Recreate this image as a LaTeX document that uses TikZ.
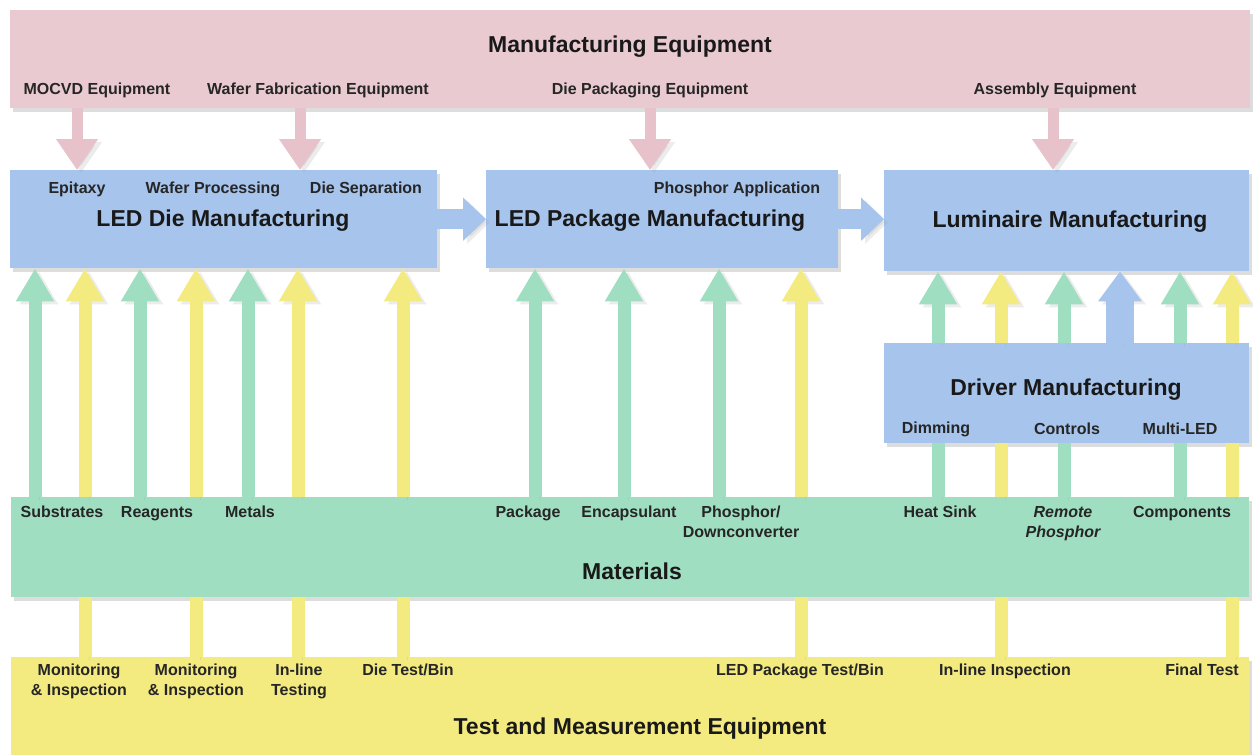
\documentclass[tikz,border=0pt]{standalone}
\usepackage{fontspec}
\setmainfont{Liberation Sans}
\usetikzlibrary{arrows.meta,shadows}
\definecolor{pinkbox}{RGB}{233,202,208}
\definecolor{pinkarr}{RGB}{231,194,203}
\definecolor{bluec}{RGB}{166,196,236}
\definecolor{greenc}{RGB}{160,222,194}
\definecolor{yellowc}{RGB}{243,234,128}
\newcommand\lblfont{\bfseries\fontsize{16}{20}\selectfont}
\newcommand\ttlfont{\bfseries\fontsize{23}{27}\selectfont}
\tikzset{
  box/.style={rectangle, inner sep=0pt, draw=none, anchor=north west,
    drop shadow={shadow xshift=3pt, shadow yshift=-4pt, opacity=0.22, fill=black!60}},
  lbl/.style={font=\lblfont, align=center, inner sep=0pt, text=black!85},
  ttl/.style={font=\ttlfont, align=center, inner sep=0pt, text=black!90},
  ashadow/.style={preaction={draw=black!40, opacity=0.18, transform canvas={xshift=4pt, yshift=-3pt}}},
  garrow/.style={ashadow, draw=greenc, line width=13pt, -{Triangle[width=36pt,length=33pt]}},
  yarrow/.style={ashadow, draw=yellowc, line width=13pt, -{Triangle[width=36pt,length=33pt]}},
  gline/.style={ashadow, draw=greenc, line width=13pt},
  yline/.style={ashadow, draw=yellowc, line width=13pt},
  parrow/.style={ashadow, draw=pinkarr, line width=11pt, -{Triangle[width=40pt,length=31pt]}},
  bharrow/.style={ashadow, draw=bluec, line width=20pt, -{Triangle[width=42pt,length=23pt]}},
  bvarrow/.style={ashadow, draw=bluec, line width=28pt, -{Triangle[width=42pt,length=30pt]}},
}
\begin{document}
\begin{tikzpicture}[x=1pt,y=-1pt]
\useasboundingbox (0,0) rectangle (1253,755);
\fill[white] (0,0) rectangle (1253,755);

% column coordinates
\foreach \n/\x in {p1/77,p2/300,p3/650,p4/1053,
  g1/35,y1/85,g2/140,y2/196,g3/248,y3/298,y4/403,
  g4/535,g5/624,g6/719,y5/801,
  g7/938,y6/1001,g8/1064,b1/1120,g9/1180,y7/1232}
  \coordinate (\n) at (\x,0);

% boxes
\node[box, fill=pinkbox, minimum width=1240pt, minimum height=98pt] (meq) at (10,10) {};
\node[box, fill=bluec, minimum width=427pt, minimum height=98pt] (die) at (10,170) {};
\node[box, fill=bluec, minimum width=352pt, minimum height=98pt] (pkg) at (486,170) {};
\node[box, fill=bluec, minimum width=365pt, minimum height=101pt] (lum) at (884,170) {};
\node[box, fill=bluec, minimum width=365pt, minimum height=100pt] (drv) at (884,343) {};
\node[box, fill=greenc, minimum width=1238pt, minimum height=100pt] (mat) at (11,497) {};
\node[box, fill=yellowc, minimum width=1238pt, minimum height=98pt] (tme) at (11,657) {};

% pink arrows (equipment -> manufacturing)
\draw[parrow] (p1 |- meq.south) -- (p1 |- die.north);
\draw[parrow] (p2 |- meq.south) -- (p2 |- die.north);
\draw[parrow] (p3 |- meq.south) -- (p3 |- pkg.north);
\draw[parrow] (p4 |- meq.south) -- (p4 |- lum.north);

% blue flow arrows
\draw[bharrow] (die.east) -- (die.east -| pkg.west);
\draw[bharrow] (pkg.east) -- (pkg.east -| lum.west);
\draw[bvarrow] (b1 |- drv.north) -- (b1 |- lum.south);

% materials -> die / package
\foreach \c in {g1,g2,g3} \draw[garrow] (\c |- mat.north) -- (\c |- die.south);
\foreach \c in {g4,g5,g6} \draw[garrow] (\c |- mat.north) -- (\c |- pkg.south);
% test -> die / package (through materials)
\foreach \c in {y1,y2,y3,y4} {
  \draw[yline] (\c |- tme.north) -- (\c |- mat.south);
  \draw[yarrow] (\c |- mat.north) -- (\c |- die.south);
}
\draw[yline] (y5 |- tme.north) -- (y5 |- mat.south);
\draw[yarrow] (y5 |- mat.north) -- (y5 |- pkg.south);
% luminaire column (through driver box)
\foreach \c in {g7,g8,g9} {
  \draw[gline] (\c |- mat.north) -- (\c |- drv.south);
  \draw[garrow] (\c |- drv.north) -- (\c |- lum.south);
}
\foreach \c in {y6,y7} {
  \draw[yline] (\c |- tme.north) -- (\c |- mat.south);
  \draw[yline] (\c |- mat.north) -- (\c |- drv.south);
  \draw[yarrow] (\c |- drv.north) -- (\c |- lum.south);
}

% texts: manufacturing equipment
\node[ttl] (t-meq) at (630,47) {Manufacturing Equipment};
\node[lbl] (l-mocvd) at (97,90) {MOCVD Equipment};
\node[lbl] (l-wafer) at (318,90) {Wafer Fabrication Equipment};
\node[lbl] (l-diepk) at (650,90) {Die Packaging Equipment};
\node[lbl] (l-assy) at (1055,90) {Assembly Equipment};

% LED die
\node[lbl] (l-epi) at (77,189) {Epitaxy};
\node[lbl] (l-wproc) at (213,189) {Wafer Processing};
\node[lbl] (l-dsep) at (366,189) {Die Separation};
\node[ttl] (t-die) at (223,221) {LED Die Manufacturing};
% package
\node[lbl] (l-phapp) at (737,189) {Phosphor Application};
\node[ttl] (t-pkg) at (650,221) {LED Package Manufacturing};
% luminaire
\node[ttl] (t-lum) at (1070,222) {Luminaire Manufacturing};
% driver
\node[ttl] (t-drv) at (1066,390) {Driver Manufacturing};
\node[lbl] (l-dim) at (936,429) {Dimming};
\node[lbl] (l-ctl) at (1067,429) {Controls};
\node[lbl] (l-mled) at (1180,429) {Multi-LED};

% materials
\node[lbl, anchor=north] (l-sub) at (62,506) {Substrates};
\node[lbl, anchor=north] (l-rea) at (157,506) {Reagents};
\node[lbl, anchor=north] (l-met) at (250,506) {Metals};
\node[lbl, anchor=north] (l-pack) at (528,506) {Package};
\node[lbl, anchor=north] (l-enc) at (629,506) {Encapsulant};
\node[lbl, anchor=north] (l-phos) at (741,506) {Phosphor/\\Downconverter};
\node[lbl, anchor=north] (l-hs) at (940,506) {Heat Sink};
\node[lbl, anchor=north, font=\lblfont\itshape] (l-rp) at (1063,506) {Remote\\Phosphor};
\node[lbl, anchor=north] (l-comp) at (1182,506) {Components};
\node[ttl] (t-mat) at (632,571) {Materials};

% test and measurement
\node[lbl, anchor=north] (l-mon1) at (79,664) {Monitoring\\\& Inspection};
\node[lbl, anchor=north] (l-mon2) at (196,664) {Monitoring\\\& Inspection};
\node[lbl, anchor=north] (l-ilt) at (299,664) {In-line\\Testing};
\node[lbl, anchor=north] (l-dtb) at (408,664) {Die Test/Bin};
\node[lbl, anchor=north] (l-ptb) at (800,664) {LED Package Test/Bin};
\node[lbl, anchor=north] (l-ili) at (1005,664) {In-line Inspection};
\node[lbl, anchor=north] (l-ft) at (1202,664) {Final Test};
\node[ttl] (t-tme) at (640,729) {Test and Measurement Equipment};
\end{tikzpicture}
\end{document}
